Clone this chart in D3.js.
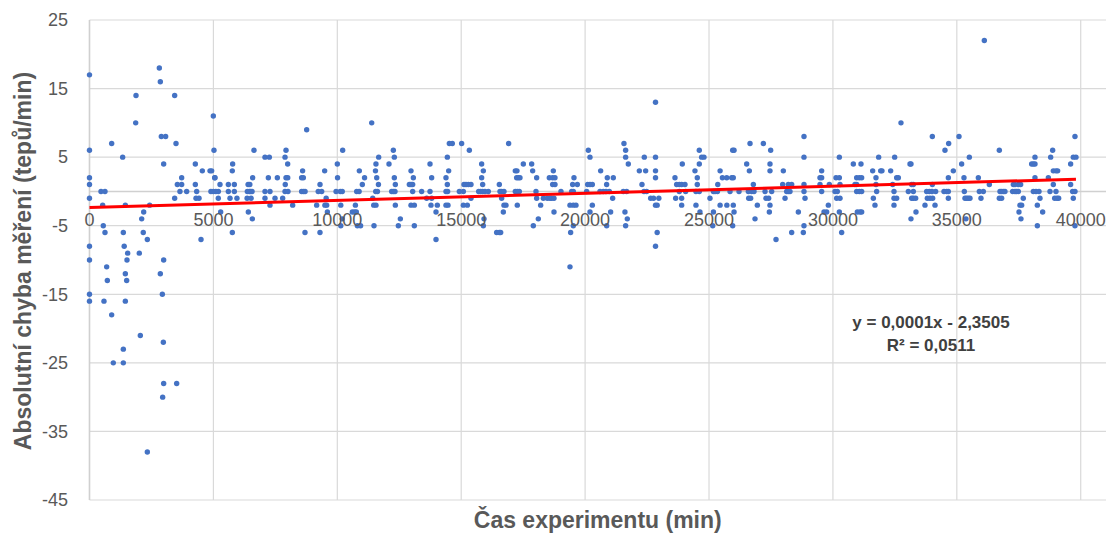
<!DOCTYPE html>
<meta charset="utf-8">
<script src="https://d3js.org/d3.v7.min.js"></script>
<body style="margin: 0; background: #fff;">
<svg id="chart" width="1112" height="533"></svg>
</body>

<style>
  text { font-family: "Liberation Sans", Arial, sans-serif; fill: #595959; }
</style>

<script>

var startPoints = [
  [0,17],[0,6],[0,2],[0,1],[0,-1],[0,-8],[0,-10],[0,-15],[0,-16],
  [464,0],[625,0],[532,-2],[557,-5],[625,-6],[693,-11],[720,-13],[585,-16],[895,-18],
  [961,-25],[1365,-25],[1365,-23],[1446,-12],[1500,-13],[1446,-16],[1513,-10],[2051,-21],
  [2334,-38],[2980,-22],[2993,-28],[3518,-28],[2953,-30],[2858,-12],[2940,-15],[2993,-10],
  [895,7],[1338,5],[1446,-2],[1365,-6],[1400,-8],[1541,-9],[1877,14],[1864,10],[2010,-9],
  [2106,-4],[2187,-3],[2170,-6],[2334,-7],[2428,-2],[2818,18],[2858,16],[2898,8],[3073,8],
  [2993,4],[3437,14],[3437,-1],[3491,7],[3545,1],[3720,1],[3720,2],[3650,0],[3921,0],
  [4271,4],[4271,1],[4325,0],[4298,-1],[4420,-1],[4500,-7],[4553,3],[4863,3],[4930,3],
  [4997,11],[5024,6],[5065,2],[4900,0],[5000,0],[5100,0],[5198,-1]
];

var earlyPoints = [
  [5051,2],[5266,1],[5293,-3],[5200,0],[5603,1],[5603,0],[5670,-1],[5777,4],[5763,3],
  [5845,1],[5845,0],[5950,-1],[5764,-6],[6410,-3],[6571,-4],[6370,0],[6450,0],[6500,0],
  [6560,0],[6400,1],[6470,1],[6360,-1],[6520,-1],[6585,2],[6638,6],[7082,5],[7257,5],
  [7082,0],[7284,0],[7082,-1],[7217,2],[7284,-2],[7486,-1],[7580,2],[7795,-1],[7930,6],
  [7890,5],[7997,4],[7930,2],[8000,2],[7900,1],[7890,0],[8010,0],[8199,-2],[8560,2],
  [8630,2],[8600,3],[8560,0],[8630,0],[8700,0],[8764,9],[8696,-6],[9167,-2],[9302,1],
  [9230,0],[9370,0],[9301,-6],[9490,3],[9550,-1],[9570,-2],[9500,-2],[9600,-3],[10001,4],
  [10010,2],[9950,0],[10120,0],[10200,0],[10217,6],[10140,-2],[10200,-4],[10140,-5],
  [10607,-3],[10700,-3],[10768,-3],[10730,-2],[10782,0],[10880,0],[10889,3],[11010,1],
  [11100,2],[10810,-5],[10940,-5]
];

var midPoints = [
  [11388,10],[11430,-1],[11470,-2],[11560,-2],[11481,-5],[11540,3],[11560,4],[11590,2],
  [11670,5],[11550,0],[11620,0],[11660,1],[12086,4],[12194,0],[12261,0],[12328,0],[12261,6],
  [12301,5],[12301,2],[12342,1],[12342,-2],[12463,-5],[12544,-4],[12907,1],[12974,1],
  [13041,1],[12974,3],[13068,2],[13041,0],[12974,-2],[13108,-2],[13108,-5],[13404,0],
  [13606,-1],[13741,4],[13741,0],[13808,2],[13808,-1],[13780,-2],[13983,-7],[13983,-3],
  [14036,-2],[14386,2],[14440,1],[14453,0],[14386,0],[14467,-2],[14386,-2],[14440,5],
  [14494,3],[14521,7],[14641,7],[14924,0],[15086,0],[15018,7],[15112,1],[15193,1],[15287,1],
  [15395,1],[15086,-2],[15247,-2],[15328,6],[15395,-1],[15704,0],[15785,0],[15866,0],
  [15960,0],[16094,0],[15825,4],[15893,3],[15825,2],[15866,1],[15920,-4],[15893,-5],
  [16430,-6],[16538,-6],[16592,-6],[16538,1],[16565,0],[16632,0],[16726,0],[16632,-1],
  [16726,-2],[16807,-2],[16700,-3],[16914,7],[17183,3],[17250,3],[17237,2],[17304,2],
  [17371,2],[17183,0],[17264,0],[17345,0],[17264,-2],[17507,4],[17843,4],[17883,3],
  [18045,2],[18018,0],[18045,-1],[18206,-2],[18112,-4],[17910,-5],[18314,-1],[18475,-1],
  [18583,-1],[18650,-1],[18744,-1],[18556,2],[18690,2],[18784,2],[18717,3],[18690,1],
  [18784,1],[18744,-3],[19026,0],[19390,-2],[19524,-2],[19632,-2],[19551,2],[19497,1],
  [19686,1],[19457,0],[19524,0],[19416,-6],[19390,-11],[19524,-5],[20130,6],[20197,5],
  [20103,1],[20197,1],[20291,1],[20063,0],[20291,-2],[20197,-3],[20627,3],[20600,0],
  [20735,0],[20842,0],[20977,0],[20869,1],[20896,2],[21138,2],[21030,-3],[21111,-1],
  [20869,-5],[21568,7],[21635,6],[21635,5],[21743,4],[21541,0],[21676,0],[21608,-3],
  [21703,-4],[21635,-5],[22188,3],[22295,1],[22389,5],[22443,3],[22376,0],[22483,0],
  [22645,-1],[22841,13],[22841,5],[22841,3],[22841,2],[22762,-1],[22841,-2],[22908,-2],
  [22975,-1],[22908,-6],[22841,-8],[23627,2],[23694,1],[23801,1],[23896,1],[24030,1],
  [23801,0],[24057,0],[23654,-1],[23896,-1],[23896,-2],[23922,4],[24433,3],[24608,6],
  [24608,4],[24702,5],[24796,5],[24527,2],[24527,1],[24473,0],[24608,0],[24473,-2],
  [24635,-3],[25039,-1],[25178,0],[25245,0],[25340,0],[25353,1],[25447,3],[25540,2],
  [25715,2],[25178,-3],[25150,-5],[25447,-2],[25720,-2]
];

var latePoints = [
  [25915,2],[25980,2],[25955,6],[26010,6],[25980,-2],[26010,-3],[25955,-5],[25848,0],
  [26211,0],[26520,4],[26628,3],[26655,7],[26587,0],[26722,0],[26816,0],[26789,1],
  [26601,-1],[26681,-1],[26856,-4],[26950,-2],[27193,7],[27260,0],[27300,-1],[27408,-1],
  [27435,-3],[27461,-2],[27461,4],[27461,3],[27488,6],[27529,0],[27704,-7],[27999,3],
  [27973,1],[28134,0],[28201,0],[28268,0],[28067,-1],[28201,1],[28336,1],[28336,-6],
  [28605,-3],[28833,8],[28833,5],[28833,1],[28833,0],[28874,-1],[28833,-5],[28806,-6],
  [29479,2],[29546,2],[29546,3],[29479,1],[29546,0],[29640,-3],[29815,-2],[29748,-3],
  [29855,1],[30125,2],[30084,0],[30178,0],[30151,-1],[30286,-1],[30259,5],[30259,2],
  [30286,1],[30259,-3],[30353,-6],[30824,4],[30891,1],[30958,1],[30958,2],[31066,2],
  [31160,2],[30958,0],[31066,0],[31160,0],[30985,-3],[31093,-3],[31160,-3],[31133,4],
  [31604,3],[31631,-1],[31698,-2],[31738,1],[31738,2],[31765,0],[31846,5],[31927,3],
  [31980,3],[32330,3],[32411,1],[32465,0],[32465,-1],[32492,5],[32465,-2],[32572,2],
  [32640,2],[32572,-1],[32747,10],[33043,0],[33110,4],[33150,4],[33177,1],[33245,1],
  [33177,-1],[33245,-1],[33339,-1],[33150,-4],[33352,-3],[33245,0],[33716,-2],[33783,0],
  [33891,0],[33998,0],[34146,0],[33810,-1],[33918,-1],[34025,-1],[34012,8],[34012,1],
  [34120,-2],[34482,0],[34590,0],[34658,0],[34522,6],[34671,7],[34658,2],[34658,-1],
  [34859,3],[35088,8],[35195,4],[35289,2],[35303,0],[35330,-1],[35397,-1],[35464,-1],
  [35531,-1],[35370,-4],[35505,5],[35868,2],[35908,0],[36070,0],[35975,-1],[36110,22],
  [36312,1],[36715,6],[36715,-1],[36809,-1],[36742,0],[36809,0],[36876,0],[36943,0],
  [37280,1],[37347,1],[37482,1],[37576,1],[37253,0],[37347,0],[37414,0],[37482,0],
  [37549,-2],[37616,-2],[37508,-3],[37589,-4],[37683,-1],[38020,4],[38087,4],[38154,4],
  [38154,5],[38154,2],[38087,0],[38195,0],[38316,0],[38249,-2],[38356,-1],[38464,-3],
  [38249,-5],[38693,2],[38787,5],[38867,6],[38894,3],[39002,3],[39069,3],[38894,1],
  [38760,0],[39002,0],[38948,-1],[39042,-1],[39110,-1],[39593,4],[39593,1],[39674,0],
  [39768,0],[39700,-1],[39768,8],[39700,5],[39808,5],[39768,-5]
];

// axis ticks
var xTicks = [0, 5000, 10000, 15000, 20000, 25000, 30000, 35000, 40000];
var yTicks = [25, 15, 5, -5, -15, -25, -35, -45];

// linear trend as Excel shows it
var trendSlope = 0.000104;
var trendIntercept = -2.3505;
var trendLabels = ["y = 0,0001x - 2,3505", "R² = 0,0511"];

var xTitle = "Čas experimentu (min)";
var yTitle = "Absolutní chyba měření (tepů/min)";

var points = startPoints.concat(earlyPoints, midPoints, latePoints);

var svg = d3.select("#chart");

var x = d3.scaleLinear().domain([0, 41020]).range([89.5, 1106]);
var y = d3.scaleLinear().domain([-45, 25]).range([500, 20]);

// gridlines
var grid = svg.append("g").attr("stroke", "#d9d9d9").attr("stroke-width", 1.2);
grid.selectAll(".h").data(yTicks).join("line")
    .attr("x1", x(0)).attr("x2", x.range()[1])
    .attr("y1", function(d) { return y(d); }).attr("y2", function(d) { return y(d); });
grid.selectAll(".v").data(xTicks).join("line")
    .attr("x1", function(d) { return x(d); }).attr("x2", function(d) { return x(d); })
    .attr("y1", y(25)).attr("y2", y(-45));

// axis lines (horizontal axis crosses at 0)
svg.append("line")
    .attr("x1", x(0)).attr("x2", x.range()[1])
    .attr("y1", y(0)).attr("y2", y(0))
    .attr("stroke", "#d0d0d0").attr("stroke-width", 1.5);
svg.append("line")
    .attr("x1", x(0)).attr("x2", x(0))
    .attr("y1", y(25)).attr("y2", y(-45))
    .attr("stroke", "#d0d0d0").attr("stroke-width", 1.5);

// scatter points
svg.append("g").selectAll("circle").data(points).join("circle")
    .attr("cx", function(d) { return x(d[0]); })
    .attr("cy", function(d) { return y(d[1]); })
    .attr("r", 2.7)
    .attr("fill", "#4472c4");

// trendline
var xEnd = d3.max(points, function(d) { return d[0]; });
svg.append("line")
    .attr("x1", x(0)).attr("y1", y(trendIntercept))
    .attr("x2", x(xEnd)).attr("y2", y(trendIntercept + trendSlope * xEnd))
    .attr("stroke", "#ff0000").attr("stroke-width", 3);

// tick labels
svg.append("g").selectAll("text").data(xTicks).join("text")
    .attr("x", function(d) { return x(d); })
    .attr("y", y(0) + 35)
    .attr("text-anchor", "middle")
    .style("font-size", "18px")
    .text(function(d) { return d; });

svg.append("g").selectAll("text").data(yTicks).join("text")
    .attr("x", 68)
    .attr("y", function(d) { return y(d); })
    .attr("dy", "0.35em")
    .attr("text-anchor", "end")
    .style("font-size", "18px")
    .text(function(d) { return d; });

// trend equation
svg.append("g").selectAll("text").data(trendLabels).join("text")
    .attr("x", 931)
    .attr("y", function(d, i) { return 328 + i * 23; })
    .attr("text-anchor", "middle")
    .style("font-size", "17px")
    .style("font-weight", "bold")
    .style("fill", "#404040")
    .text(function(d) { return d; });

// axis titles
var plotMid = (x.range()[0] + x.range()[1]) / 2;
svg.append("text")
    .attr("x", plotMid).attr("y", 528)
    .attr("text-anchor", "middle")
    .style("font-size", "23px")
    .style("font-weight", "bold")
    .text(xTitle);

svg.append("text")
    .attr("transform", "translate(31,261) rotate(-90)")
    .attr("text-anchor", "middle")
    .style("font-size", "23px")
    .style("font-weight", "bold")
    .text(yTitle);

</script>
